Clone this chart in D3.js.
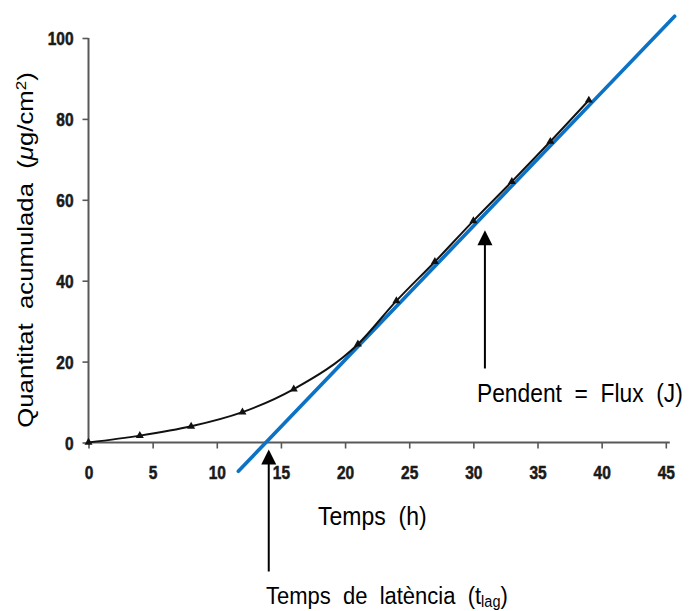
<!DOCTYPE html>
<html>
<head>
<meta charset="utf-8">
<script src="https://cdn.jsdelivr.net/npm/d3@7"></script>
<style>
  html, body { margin: 0; padding: 0; background: #fff; }
  svg { display: block; }
  text { font-family: "Liberation Sans", Arial, sans-serif; }
</style>
</head>
<body>
<svg id="chart" width="690" height="611"></svg>
<script>
// Cumulative permeated amount over time
const hours  = [0, 4, 8, 12, 16, 21, 24, 27, 30, 33, 36, 39];
const amount = [0, 1.7, 4.0, 7.5, 13.2, 24.3, 35.0, 44.7, 54.8, 64.5, 74.4, 84.6];

// Steady-state fit: y = flux * (t - lagTime)
const lagTime = 13.83;
const flux = 3.308;
const fitRange = [11.68, 45.69];

const xTicks = [0, 5, 10, 15, 20, 25, 30, 35, 40, 45];
const yTicks = [0, 20, 40, 60, 80, 100];

const stretch = 1.12;     // annotation glyphs are drawn slightly taller than wide
const tickStretch = 1.2;  // tick numbers are taller still

const svg = d3.select("#chart");

const x = d3.scaleLinear().domain([0, 45]).range([88.5, 665.8]);
const y = d3.scaleLinear().domain([0, 100]).range([442.5, 38]);

const axisColor = "#585858";
const labelColor = "#1a1a1a";

// ---- axes ----
const gx = svg.append("g").attr("transform", `translate(0,${y(0)})`)
  .call(d3.axisBottom(x).tickValues(xTicks).tickSize(6).tickSizeOuter(0).tickFormat(d3.format("d")));
const gy = svg.append("g").attr("transform", `translate(${x(0)},0)`)
  .call(d3.axisLeft(y).tickValues(yTicks).tickSize(6).tickSizeOuter(0).tickFormat(d3.format("d")));

[gx, gy].forEach(g => {
  g.select(".domain").remove();
  g.selectAll(".tick line").attr("stroke", axisColor).attr("stroke-width", 1.6);
  g.selectAll(".tick text")
    .attr("fill", labelColor)
    .attr("stroke", labelColor)
    .attr("stroke-width", 0.45)
    .style("font-family", "'Liberation Sans', Arial, sans-serif")
    .style("font-weight", "bold")
    .style("font-size", "15.5px");
});

// x labels: baseline ~36px under the axis after the vertical stretch
gx.selectAll(".tick text")
  .attr("y", 36.5 / tickStretch).attr("dy", 0)
  .attr("transform", `scale(1,${tickStretch})`);
gy.selectAll(".tick text")
  .attr("x", -15).attr("dy", "0.35em")
  .attr("transform", `scale(1,${tickStretch})`);

// axis lines
svg.append("line")
  .attr("x1", x(0)).attr("x2", x(45) + 4)
  .attr("y1", y(0)).attr("y2", y(0))
  .attr("stroke", axisColor).attr("stroke-width", 2);
svg.append("line")
  .attr("x1", x(0)).attr("x2", x(0))
  .attr("y1", y(0)).attr("y2", y(100))
  .attr("stroke", axisColor).attr("stroke-width", 2);

// ---- fitted steady-state line ----
const fitY = t => flux * (t - lagTime);
svg.append("line")
  .attr("x1", x(fitRange[0])).attr("y1", y(fitY(fitRange[0])))
  .attr("x2", x(fitRange[1])).attr("y2", y(fitY(fitRange[1])))
  .attr("stroke", "#0b72c6").attr("stroke-width", 3.6)
  .attr("stroke-linecap", "round");

// ---- measured curve ----
const pts = hours.map((h, i) => [h, amount[i]]);
svg.append("path")
  .datum(pts)
  .attr("fill", "none")
  .attr("stroke", "#111")
  .attr("stroke-width", 2)
  .attr("d", d3.line().x(d => x(d[0])).y(d => y(d[1])).curve(d3.curveMonotoneX));

svg.selectAll(".marker")
  .data(pts)
  .join("path")
  .attr("class", "marker")
  .attr("transform", d => `translate(${x(d[0])},${y(d[1])})`)
  .attr("d", d3.symbol(d3.symbolTriangle, 28))
  .attr("fill", "#111");

// ---- arrows ----
function arrow(ax, yTip, yTail) {
  const head = 15, half = 7.5;
  svg.append("line")
    .attr("x1", ax).attr("x2", ax)
    .attr("y1", yTip + head - 1).attr("y2", yTail)
    .attr("stroke", "#000").attr("stroke-width", 2);
  svg.append("path")
    .attr("d", `M${ax},${yTip} L${ax + half},${yTip + head} L${ax - half},${yTip + head} Z`)
    .attr("fill", "#000");
}
arrow(x(30.9), y(52.5), y(18.3));
arrow(x(14.05), y(0) + 7, y(0) + 129);

// ---- text ----
function label(px, py, parts, size, opts = {}) {
  const t = svg.append("text")
    .attr("transform", opts.rotate
      ? `translate(${px},${py}) rotate(-90) scale(${stretch},1)`
      : `translate(${px},${py}) scale(1,${stretch})`)
    .attr("text-anchor", opts.anchor || "start")
    .attr("fill", "#000")
    .style("font-size", size + "px")
    .style("white-space", "pre");
  parts.forEach(p => {
    const s = t.append("tspan").text(p.text);
    if (p.sub) s.style("font-size", (size * 0.66) + "px").attr("baseline-shift", "-22%");
    if (p.sup) s.style("font-size", (size * 0.66) + "px").attr("baseline-shift", "45%");
    if (p.italic) s.style("font-style", "italic");
  });
  return t;
}

label(477, 402, [{ text: "Pendent  =  Flux  (J)" }], 22.8);
label(318, 525, [{ text: "Temps  (h)" }], 23);
label(266, 604, [{ text: "Temps  de  latència  (t" }, { text: "lag", sub: true }, { text: ")" }], 22);
label(33, 250, [
  { text: "Quantitat  acumulada  (" },
  { text: "μ", italic: true },
  { text: "g/cm" },
  { text: "2", sup: true },
  { text: ")" }
], 23, { rotate: true, anchor: "middle" });
</script>
</body>
</html>
